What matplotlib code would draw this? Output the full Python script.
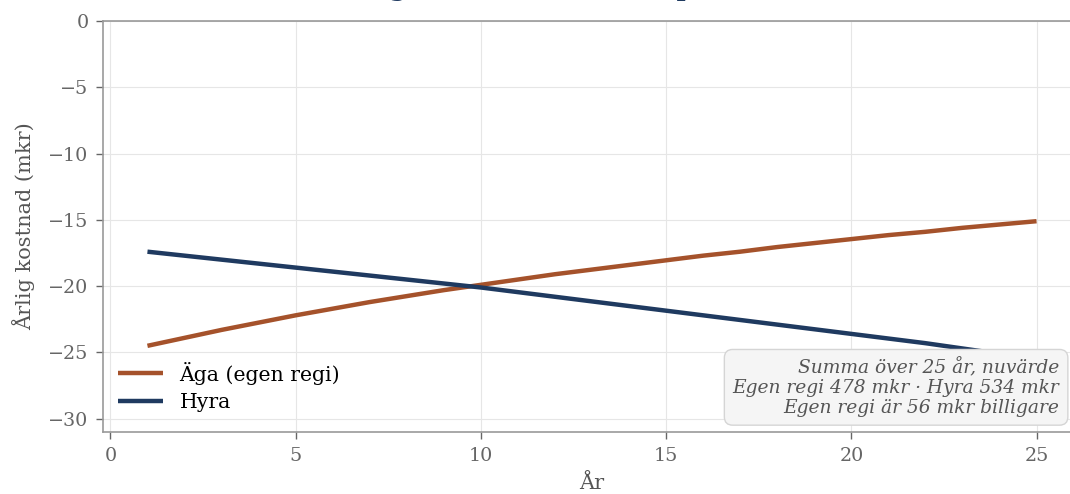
import matplotlib
matplotlib.use("Agg")
import matplotlib.pyplot as plt

years = list(range(1, 26))
aga = [-24.5, -23.9, -23.3, -22.75, -22.2, -21.7, -21.2, -20.75, -20.3, -19.9,
       -19.5, -19.1, -18.75, -18.4, -18.05, -17.7, -17.4, -17.05, -16.75, -16.45,
       -16.15, -15.9, -15.6, -15.35, -15.1]
hyra = [-17.4, -17.7, -18.0, -18.3, -18.6, -18.9, -19.2, -19.5, -19.8, -20.1,
        -20.45, -20.8, -21.15, -21.5, -21.85, -22.2, -22.55, -22.9, -23.25, -23.6,
        -23.95, -24.3, -24.7, -25.1, -25.5]
series_labels = ["Äga (egen regi)", "Hyra"]
title = "Årlig kostnad i nuvärde per år i mkr"
note = "Summa över 25 år, nuvärde\nEgen regi 478 mkr · Hyra 534 mkr\nEgen regi är 56 mkr billigare"

plt.rcParams['font.family'] = ['DejaVu Serif']
fig = plt.figure(figsize=(10.7, 4.94), dpi=100)
ax = fig.add_axes([103/1070, 1-432/494, 978/1070, 411/494])

ax.plot(years, aga, color='#a5522b', lw=3.2, label=series_labels[0], solid_capstyle='butt')
ax.plot(years, hyra, color='#1f3a60', lw=3.2, label=series_labels[1], solid_capstyle='butt')

ax.set_xlim(-0.2, 26.2)
ax.set_ylim(-31, 0)
ax.set_xticks([0, 5, 10, 15, 20, 25])
ax.set_yticks([0, -5, -10, -15, -20, -25, -30])
ax.grid(True, color='#e6e6e6', lw=0.8)
ax.set_axisbelow(True)
for s in ax.spines.values():
    s.set_color('#999999')
    s.set_linewidth(1.2)
ax.tick_params(colors='#666666', labelsize=13.8, length=5, width=1, pad=5.5,
               labelcolor='#666666')
ax.set_xlabel("År", fontsize=15, color='#555555', labelpad=7)
ax.set_ylabel("Årlig kostnad (mkr)", fontsize=15, color='#555555', labelpad=9)
ax.set_title(title, fontsize=18, fontweight='bold', color='#1f3a60', pad=17.8)

leg = ax.legend(loc='lower left', frameon=False, fontsize=14.7, handlelength=2.2,
                bbox_to_anchor=(0.0, 0.012), borderaxespad=0.35, labelspacing=0.4)

ax.text(0.978, 0.037, note, transform=ax.transAxes, ha='right', va='bottom',
        fontsize=13.4, style='italic', color='#555555', linespacing=1.12,
        bbox=dict(boxstyle='round,pad=0.45', facecolor='#f5f5f5', edgecolor='#d5d5d5', lw=1))

fig.savefig("out.png", dpi=100)
